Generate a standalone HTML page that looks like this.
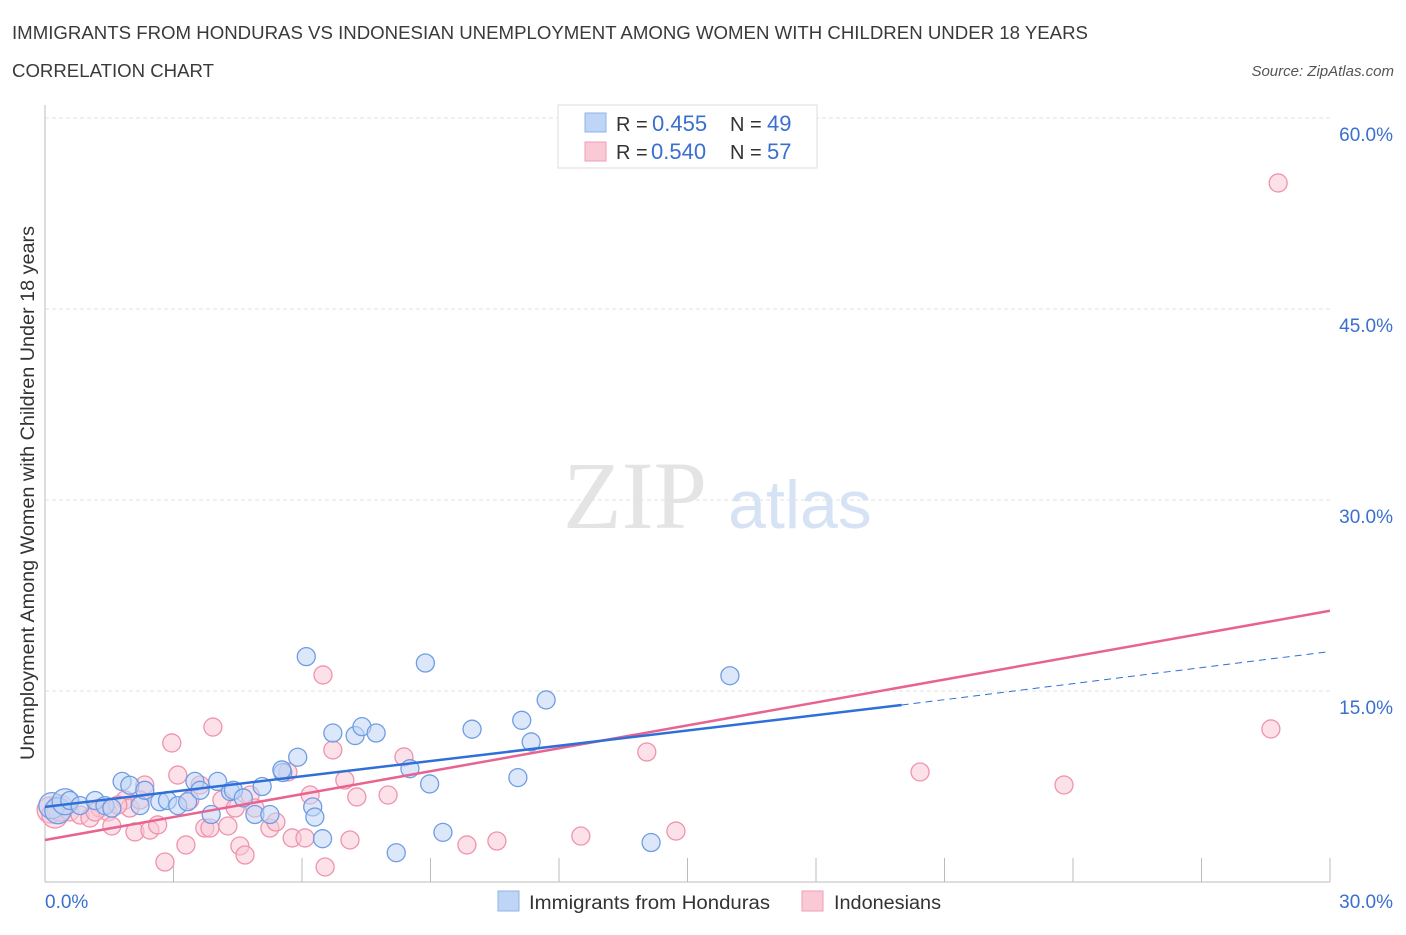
<!DOCTYPE html>
<html><head><meta charset="utf-8">
<style>
body{margin:0;background:#fff;font-family:"Liberation Sans",sans-serif;}
svg text{font-family:"Liberation Sans",sans-serif;}
</style></head>
<body>
<svg id="chart" width="1406" height="930" xmlns="http://www.w3.org/2000/svg">
<text x="12" y="39" font-size="18" fill="#3a3a3a" textLength="1076" lengthAdjust="spacingAndGlyphs">IMMIGRANTS FROM HONDURAS VS INDONESIAN UNEMPLOYMENT AMONG WOMEN WITH CHILDREN UNDER 18 YEARS</text>
<text x="12" y="77" font-size="18" fill="#3a3a3a" textLength="202" lengthAdjust="spacingAndGlyphs">CORRELATION CHART</text>
<text x="1394" y="76" font-size="15" fill="#555" text-anchor="end" font-style="italic">Source: ZipAtlas.com</text>
<text x="635" y="528" font-size="96" fill="#e4e4e4" text-anchor="middle" style="font-family:'Liberation Serif',serif">ZIP</text>
<text x="800" y="528" font-size="68" fill="#d6e3f5" text-anchor="middle">atlas</text>
<g id="grid"></g>
<g id="axes"></g>
<g id="pts"></g>
<g id="lines"></g>
<text transform="translate(34,493) rotate(-90)" font-size="19" fill="#333" text-anchor="middle" textLength="534" lengthAdjust="spacingAndGlyphs">Unemployment Among Women with Children Under 18 years</text>
<g>
<rect x="558" y="105" width="259" height="63" fill="#fff" stroke="#ddd"/>
<rect x="585" y="113" width="21" height="19" fill="#bfd5f5" stroke="#8fb3ea"/>
<rect x="585" y="142" width="21" height="19" fill="#f9c9d6" stroke="#ef9db5"/>
<text x="616" y="131" font-size="20" fill="#333">R = <tspan x="652" font-size="22" fill="#3a6fd0">0.455</tspan><tspan x="730">N = </tspan><tspan x="767" font-size="22" fill="#3a6fd0">49</tspan></text>
<text x="616" y="159" font-size="20" fill="#333">R = <tspan x="651" font-size="22" fill="#3a6fd0">0.540</tspan><tspan x="730">N = </tspan><tspan x="767" font-size="22" fill="#3a6fd0">57</tspan></text>
</g>
<g>
<rect x="498" y="891" width="21" height="20" fill="#bfd5f5" stroke="#8fb3ea"/>
<text x="529" y="909" font-size="19" fill="#333" textLength="241" lengthAdjust="spacingAndGlyphs">Immigrants from Honduras</text>
<rect x="802" y="891" width="21" height="20" fill="#f9c9d6" stroke="#ef9db5"/>
<text x="834" y="909" font-size="19" fill="#333" textLength="107" lengthAdjust="spacingAndGlyphs">Indonesians</text>
</g>
</svg>
<script>
const yTicks=[15,30,45,60];
const yTickLabels=["15.0%","30.0%","45.0%","60.0%"];
const xEndLabels=["0.0%","30.0%"];
// Honduras (x %, y %)
const hondurasX=[0.16,0.3,0.47,0.58,0.82,1.17,1.4,1.56,1.8,1.98,2.22,2.33,2.68,2.86,3.1,3.33,3.5,3.62,3.88,4.03,4.33,4.4,4.63,4.9,5.07,5.25,5.55,5.53,5.9,6.1,6.25,6.3,6.72,6.48,7.24,7.4,7.73,8.2,8.52,8.88,8.98,9.29,9.97,11.04,11.13,11.35,11.7,14.15,15.99];
const hondurasY=[6.0,5.6,6.3,6.4,6.0,6.4,6.0,5.8,7.9,7.6,6.0,7.2,6.3,6.4,6.0,6.3,7.9,7.2,5.3,7.9,7.1,7.2,6.6,5.3,7.5,5.3,8.6,8.8,9.8,17.7,5.9,5.1,11.7,3.4,11.5,12.2,11.7,2.3,8.9,17.2,7.7,3.9,12.0,8.2,12.7,11.0,14.3,3.1,16.2];
// Indonesians
const indoX=[0.12,0.23,0.35,0.58,0.82,1.05,1.28,1.47,1.56,1.87,1.98,2.1,2.33,2.45,2.63,2.8,2.96,3.1,3.29,3.38,3.62,3.73,3.85,3.92,4.13,4.27,4.44,4.55,4.67,4.79,5.25,5.39,5.67,5.77,6.07,6.19,6.54,6.49,6.72,7.0,7.12,7.28,8.01,8.38,9.85,10.55,12.51,14.05,14.73,20.43,23.79,28.62,28.79,1.17,1.7,4.9,2.22];
const indoY=[5.65,5.26,5.81,5.5,5.26,5.03,5.81,5.5,4.4,6.44,5.81,3.93,7.62,4.08,4.48,1.57,10.92,8.4,2.91,6.44,7.62,4.24,4.24,12.17,6.44,4.4,5.81,2.83,2.12,6.83,4.24,4.71,8.64,3.46,3.46,6.83,1.18,16.26,10.37,8.01,3.3,6.68,6.83,9.82,2.91,3.22,3.61,10.21,4.0,8.64,7.62,12.02,54.9,5.5,6.05,5.81,6.44];
// trend lines [x0,y0,x1,y1] in data units
const hondurasTrend=[0,5.9,20.0,13.9];
const hondurasTrendExt=[20.0,13.9,30.0,18.1];
const indoTrend=[0,3.3,30.0,21.3];

const X0=45,X1=1330,Y0=882,PPY=12.733;
const sx=v=>X0+v/30*(X1-X0);
const sy=v=>Y0-v*PPY;
const NS="http://www.w3.org/2000/svg";
function mk(tag,attrs,parent){const e=document.createElementNS(NS,tag);for(const k in attrs)e.setAttribute(k,attrs[k]);parent.appendChild(e);return e;}
const grid=document.getElementById('grid'),axes=document.getElementById('axes'),pts=document.getElementById('pts'),lines=document.getElementById('lines');
yTicks.forEach((t,i)=>{
  const l=mk('line',{x1:X0,x2:X1,y1:sy(t),y2:sy(t),stroke:'#e2e2e2','stroke-dasharray':'4,3'},grid);
  
  
  const tx=mk('text',{x:1393,y:sy(t)+23,'font-size':19,fill:'#3a6fd0','text-anchor':'end'},axes);
  tx.textContent=yTickLabels[i];
  
  
});
const ax=mk('line',{x1:X0,x2:X0,y1:105,y2:Y0,stroke:'#bbb'},axes);


const bx=mk('line',{x1:X0,x2:X1,y1:Y0,y2:Y0,stroke:'#bbb'},axes);


for(let i=1;i<=10;i++){
  const x=X0+i*(X1-X0)/10;
  const tk=mk('line',{x1:x,x2:x,y1:Y0,y2:Y0-24,stroke:'#bbb'},axes);
  
  
}
[[X0,'start',0],[1393,'end',1]].forEach(([x,a,i])=>{
  const t=mk('text',{x:x,y:908,'font-size':19,fill:'#3a6fd0','text-anchor':a},axes);
  t.textContent=xEndLabels[i];
  
  
});
function draw(xs,ys,fill,stroke,name){
  xs.forEach((v,i)=>{
    const c=mk('circle',{cx:sx(v),cy:sy(ys[i]),r:(v<0.5?13:9),fill:fill,'fill-opacity':0.55,stroke:stroke,'stroke-width':1.3},pts);
    
    
  });
}
draw(indoX,indoY,'#f9c9d6','#ef93ae','point-indonesians');
draw(hondurasX,hondurasY,'#bfd5f5','#6f9de3','point-honduras');
function ln(a,col,dash,name){
  const l=mk('line',{x1:sx(a[0]),y1:sy(a[1]),x2:sx(a[2]),y2:sy(a[3]),stroke:col,'stroke-width':dash?1:2.5},lines);
  if(dash)l.setAttribute('stroke-dasharray','7,5');
  
  
}
ln(indoTrend,'#e8638f',false,'trend-line-indonesians');
ln(hondurasTrend,'#2f6fd8',false,'trend-line-honduras');
ln(hondurasTrendExt,'#2f6fd8',true,'trend-line-honduras-extension');
</script>
</body></html>
